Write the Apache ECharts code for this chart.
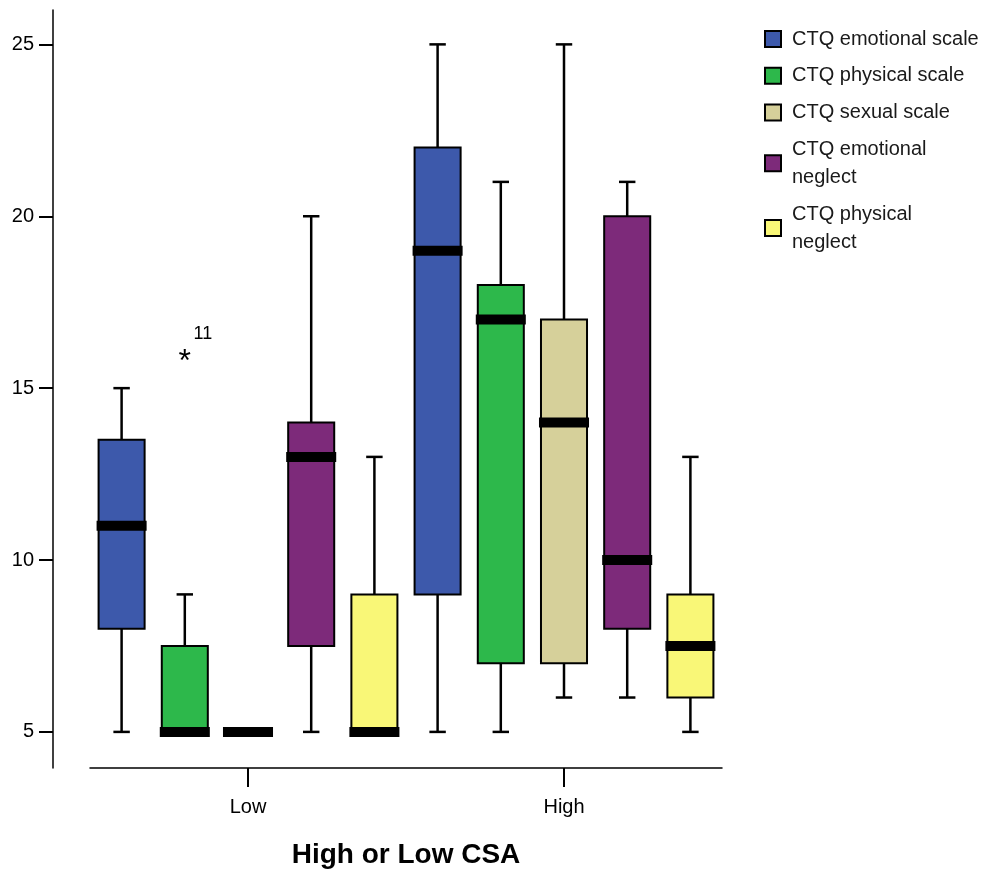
<!DOCTYPE html>
<html>
<head>
<meta charset="utf-8">
<script src="https://cdn.jsdelivr.net/npm/echarts@6/dist/echarts.min.js"></script>
<style>
html,body{margin:0;padding:0;background:#fff;}
#chart{width:985px;height:876px;}
</style>
</head>
<body>
<div id="chart"></div>
<script>
// ---- data ----
const groups = ['Low', 'High'];
const scales = ['CTQ emotional scale', 'CTQ physical scale', 'CTQ sexual scale', 'CTQ emotional neglect', 'CTQ physical neglect'];
// [min, Q1, median, Q3, max] for Low, High
const emotionalScale   = [[5, 8, 11, 13.5, 15], [5, 9, 19, 22, 25]];
const physicalScale    = [[5, 5, 5, 7.5, 9],    [5, 7, 17, 18, 21]];
const sexualScale      = [[5, 5, 5, 5, 5],      [6, 7, 14, 17, 25]];
const emotionalNeglect = [[5, 7.5, 13, 14, 20], [6, 8, 10, 20, 21]];
const physicalNeglect  = [[5, 5, 5, 9, 13],     [5, 6, 7.5, 9, 13]];
const outlierGroup = ['Low'];
const outlierScale = ['CTQ physical scale'];
const outlierValue = [16];
const outlierCase = ['11'];
const yTicks = [5, 10, 15, 20, 25];
const xAxisName = 'High or Low CSA';

// ---- styles ----
const colors = ['#3d59ab', '#2db84b', '#d6d09a', '#7d2a7a', '#f9f777'];
const legendBreaks = {
  'CTQ emotional neglect': 'CTQ emotional\nneglect',
  'CTQ physical neglect': 'CTQ physical\nneglect'
};
const FONT = '"Liberation Sans", Arial, Helvetica, sans-serif';

const allValues = [emotionalScale, physicalScale, sexualScale, emotionalNeglect, physicalNeglect];
const slotCats = [];
groups.forEach(g => scales.forEach(s => slotCats.push(g + ' | ' + s)));

function renderBox(params, api) {
  const idx = api.value(0);
  const pMin = api.coord([idx, api.value(1)]);
  const pQ1 = api.coord([idx, api.value(2)]);
  const pMed = api.coord([idx, api.value(3)]);
  const pQ3 = api.coord([idx, api.value(4)]);
  const pMax = api.coord([idx, api.value(5)]);
  const band = api.size([1, 0])[0];
  const bw = band * 0.76;
  const cap = band * 0.26;
  const cx = pMed[0];
  const color = api.visual('color');
  const ln = {stroke: '#000', lineWidth: 2.5};
  const children = [
    {type: 'line', shape: {x1: cx, y1: pQ3[1], x2: cx, y2: pMax[1]}, style: ln},
    {type: 'line', shape: {x1: cx, y1: pQ1[1], x2: cx, y2: pMin[1]}, style: ln},
    {type: 'line', shape: {x1: cx - cap / 2, y1: pMax[1], x2: cx + cap / 2, y2: pMax[1]}, style: ln},
    {type: 'line', shape: {x1: cx - cap / 2, y1: pMin[1], x2: cx + cap / 2, y2: pMin[1]}, style: ln},
    {type: 'rect', shape: {x: cx - bw / 2 + 1, y: pQ3[1], width: bw - 2, height: pQ1[1] - pQ3[1]},
      style: {fill: color, stroke: '#000', lineWidth: 2}},
    {type: 'rect', shape: {x: cx - bw / 2 - 1, y: pMed[1] - 5, width: bw + 2, height: 10}, style: {fill: '#000'}}
  ];
  return {type: 'group', children: children};
}

function renderOutlier(params, api) {
  const p = api.coord([api.value(0), api.value(1)]);
  return {type: 'group', children: [
    {type: 'text', x: p[0], y: p[1] + 8, style: {text: '*', fontSize: 32, fontFamily: FONT, fill: '#000', align: 'center', verticalAlign: 'middle'}},
    {type: 'text', x: p[0] + 18, y: p[1] - 20, style: {text: outlierCase[params.dataIndex], fontSize: 18, fontFamily: FONT, fill: '#000', align: 'center', verticalAlign: 'middle'}}
  ]};
}

const series = scales.map((name, s) => ({
  name: name,
  type: 'custom',
  xAxisIndex: 0,
  yAxisIndex: 0,
  itemStyle: {color: colors[s]},
  encode: {x: 0, y: [1, 2, 3, 4, 5]},
  data: groups.map((g, gi) => [gi * scales.length + s].concat(allValues[s][gi])),
  renderItem: renderBox,
  z: 3
}));
series.push({
  name: 'outliers',
  type: 'custom',
  xAxisIndex: 0,
  yAxisIndex: 0,
  encode: {x: 0, y: 1},
  data: outlierValue.map((v, i) => [groups.indexOf(outlierGroup[i]) * scales.length + scales.indexOf(outlierScale[i]), v]),
  renderItem: renderOutlier,
  z: 4
});

const chart = echarts.init(document.getElementById('chart'), null, {renderer: 'canvas'});
chart.setOption({
  animation: false,
  backgroundColor: '#fff',
  textStyle: {fontFamily: FONT},
  grid: {left: 90, right: 263, top: 10, bottom: 108, containLabel: false},
  legend: {
    data: scales,
    orient: 'vertical',
    left: 764,
    top: 25,
    padding: 0,
    itemGap: 8.75,
    itemWidth: 16,
    itemHeight: 16,
    icon: 'rect',
    itemStyle: {borderColor: '#000', borderWidth: 2},
    selectedMode: false,
    formatter: name => legendBreaks[name] || name,
    textStyle: {fontSize: 20, color: '#1a1a1a', lineHeight: 28, fontFamily: FONT, padding: [0, 0, 0, 6]}
  },
  xAxis: [
    {type: 'category', data: slotCats, show: false, gridIndex: 0, position: 'bottom'},
    {
      type: 'category', data: groups, gridIndex: 0, position: 'bottom',
      axisLine: {show: true, lineStyle: {color: '#000', width: 1.5}},
      axisTick: {show: true, alignWithLabel: true, length: 19, lineStyle: {color: '#000', width: 2}},
      axisLabel: {fontSize: 20, color: '#000', margin: 29, fontFamily: FONT},
      splitLine: {show: false},
      name: xAxisName,
      nameLocation: 'middle',
      nameGap: 73,
      nameTextStyle: {fontSize: 28, fontWeight: 'bold', color: '#000', fontFamily: FONT}
    }
  ],
  yAxis: [{
    type: 'value',
    min: 3.95,
    max: 26,
    offset: 37,
    axisLine: {show: true, lineStyle: {color: '#000', width: 1.5}},
    axisTick: {show: true, length: 14, customValues: yTicks, lineStyle: {color: '#000', width: 2}},
    axisLabel: {fontSize: 20, color: '#000', margin: 19, customValues: yTicks, fontFamily: FONT},
    splitLine: {show: false}
  }],
  series: series
});
</script>
</body>
</html>
